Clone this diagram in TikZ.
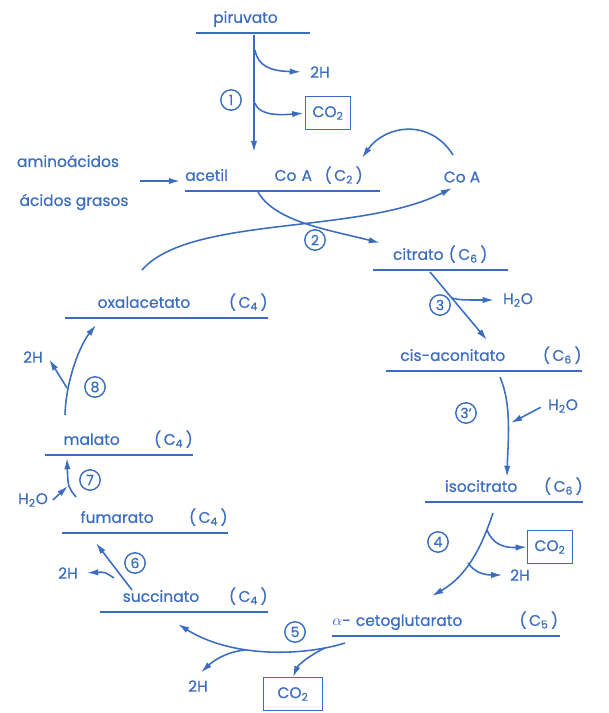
\documentclass[tikz,border=0pt]{standalone}
\usepackage{fontspec}
\setmainfont{Poppins}[FakeBold=0.4]
\usetikzlibrary{arrows.meta,positioning}
\definecolor{inkblue}{HTML}{3A6CC0}
\setlength{\parindent}{0pt}
\newcommand\metgap{\hskip 0pt plus 1filll\relax}
\newcommand\carb[1]{(\,C\textsubscript{#1}\,)}

\begin{document}
\begin{tikzpicture}[x=0.025cm, y=-0.025cm, color=inkblue,
    every node/.style={font=\fontsize{11}{13}\selectfont},
    line/.style={line width=1.1pt},
    arr/.style={line, -{Latex[length=8pt,width=4.5pt]}},
    uline/.style={line width=1pt},
    metab/.style={anchor=south west, inner xsep=0pt, inner ysep=4pt, text depth=3pt, align=left},
    stepnum/.style={circle, draw, line width=1pt, inner sep=0pt, minimum size=14.5pt, font=\fontsize{10}{11}\selectfont},
    co2box/.style={draw, line width=0.9pt, minimum width=32pt, minimum height=23pt, inner sep=2pt}
]
\fill[white] (0,0) rectangle (609,713);
\useasboundingbox (0,0) rectangle (609,713);

% Metabolites
\node[metab, text width=80.8pt] (pir) at (196,33) {\hspace*{12pt}piruvato};
\node[metab, text width=138.2pt] (acoa) at (185,191) {acetil\metgap Co A\hspace{9pt}\carb{2}\hspace*{12pt}};
\node[metab, text width=95.7pt] (cit) at (373,270) {\hspace*{14pt}citrato \carb{6}};
\node[metab, text width=138.9pt] (cisa) at (386,371) {\hspace*{10pt}cis-aconitato\metgap\carb{6}};
\node[metab, text width=112pt] (iso) at (425,502) {\hspace*{14pt}isocitrato\metgap\carb{6}};
\node[metab, text width=161.6pt] (akg) at (332,636) {$\alpha$- cetoglutarato\metgap\carb{5}\hspace*{1pt}};
\node[metab, text width=119pt] (suc) at (100,612) {\hspace*{16pt}succinato\metgap\carb{4}};
\node[metab, text width=117.6pt] (fum) at (62,533) {\hspace*{13pt}fumarato\metgap\carb{4}};
\node[metab, text width=104.9pt] (mal) at (45,455) {\hspace*{13pt}malato\metgap\carb{4}};
\node[metab, text width=143.9pt] (oxa) at (65,318) {\hspace*{23pt}oxalacetato\metgap\carb{4}};

\foreach \m in {pir,acoa,cit,cisa,iso,akg,suc,fum,mal,oxa}
  \draw[uline] (\m.south west) -- (\m.south east);

% Inputs and side products
\node (amino) at (68,161) {aminoácidos};
\node (grasos) at (74,202) {ácidos grasos};
\node (coa) at (462,177) {Co A};
\node (h2a) at (320,72) {2H};
\node[co2box] (co2a) at (328,113) {CO\textsubscript{2}};
\node (h2o3) at (518,300) {H\textsubscript{2}O};
\node (h2o3p) at (563,406) {H\textsubscript{2}O};
\node[co2box] (co2b) at (550,547) {CO\textsubscript{2}};
\node (h2b) at (520,575) {2H};
\node (h2c) at (198,686) {2H};
\node[co2box, minimum width=42pt] (co2c) at (293,694) {CO\textsubscript{2}};
\node (h2d) at (68,573) {2H};
\node (h2o7) at (33,500) {H\textsubscript{2}O};
\node (h2e) at (33,357) {2H};

% Step numbers
\node[stepnum] (n1) at (231,100) {1};
\node[stepnum] (n2) at (315,240) {2};
\node[stepnum] (n3) at (440,305) {3};
\node[stepnum] (n3p) at (466,413) {3'};
\node[stepnum] (n4) at (438,542) {4};
\node[stepnum] (n5) at (295,632) {5};
\node[stepnum] (n6) at (135,563) {6};
\node[stepnum] (n7) at (90,480) {7};
\node[stepnum] (n8) at (95,387) {8};

% Path points
\coordinate (p1a) at (254,35);
\coordinate (p1b) at (254,152);
\coordinate (p1h) at (255,50);
\coordinate (p1c) at (255,103);
\coordinate (feed) at (140,181);
\coordinate (acet) at (180,181);
\coordinate (coaup) at (453,155);
\coordinate (coain) at (362,158);
\coordinate (p2a) at (258,192);
\coordinate (p2b) at (380,243);
\coordinate (oxout) at (142,270);
\coordinate (coaend) at (452,188);
\coordinate (p3a) at (430,272);
\coordinate (p3b) at (487,340);
\coordinate (p3w) at (452,298);
\coordinate (p3pa) at (500,377);
\coordinate (p3pb) at (507,477);
\coordinate (p3pw) at (511,423);
\coordinate (p4a) at (493,513);
\coordinate (p4b) at (432,596);
\coordinate (p4c) at (487,530);
\coordinate (p4h) at (468,563);
\coordinate (p5a) at (345,643);
\coordinate (p5b) at (178,624);
\coordinate (p5h) at (245,650);
\coordinate (p5c) at (325,648);
\coordinate (p6a) at (132,590);
\coordinate (p6b) at (96,543);
\coordinate (p6h) at (114,578);
\coordinate (p7a) at (76,497);
\coordinate (p7m) at (68,486);
\coordinate (p7b) at (67,458);
\coordinate (p8a) at (65,415);
\coordinate (p8b) at (96,325);
\coordinate (p8h) at (67,388);

% Step 1
\draw[arr] (p1a) -- (p1b);
\draw[arr, shorten >=3pt] (p1h) .. controls (258,66) and (270,71) .. (h2a.west);
\draw[arr, shorten >=1pt] (p1c) .. controls (258,113) and (272,116) .. (co2a.west);
\draw[arr] (feed) -- (acet);

% Step 2
\draw[arr] (coaup) .. controls (430,118) and (385,125) .. (coain);
\draw[arr] (p2a) .. controls (275,222) and (330,230) .. (p2b);
\draw[arr] (oxout) .. controls (190,215) and (360,235) .. (coaend);

% Step 3 and 3'
\draw[arr] (p3a) -- (p3b);
\draw[arr, shorten >=3pt] (p3w) .. controls (460,300) .. (h2o3.west);
\draw[arr] (p3pa) .. controls (512,405) and (508,440) .. (p3pb);
\draw[arr, shorten <=2pt] (h2o3p.west) -- (p3pw);

% Step 4
\draw[arr] (p4a) .. controls (480,552) and (465,577) .. (p4b);
\draw[arr] (p4c) .. controls (493,545) and (505,548) .. (co2b.west);
\draw[arr, shorten >=2pt] (p4h) .. controls (475,573) and (485,575) .. (h2b.west);

% Step 5
\draw[arr] (p5a) .. controls (300,657) and (230,657) .. (p5b);
\draw[arr, shorten >=3pt] (p5h) .. controls (225,652) and (212,662) .. (h2c.north);
\draw[arr] (p5c) .. controls (310,655) and (298,665) .. (co2c.north);

% Step 6
\draw[arr] (p6a) -- (p6b);
\draw[arr, shorten >=3pt] (p6h) .. controls (105,572) .. (h2d.east);

% Step 7
\draw[arr] (p7a) .. controls (68,487) .. (p7b);
\draw[arr] (h2o7.east) -- (p7m);

% Step 8
\draw[arr] (p8a) .. controls (66,380) and (80,345) .. (p8b);
\draw[arr, shorten >=2pt] (p8h) -- (h2e.east);
\end{tikzpicture}
\end{document}
